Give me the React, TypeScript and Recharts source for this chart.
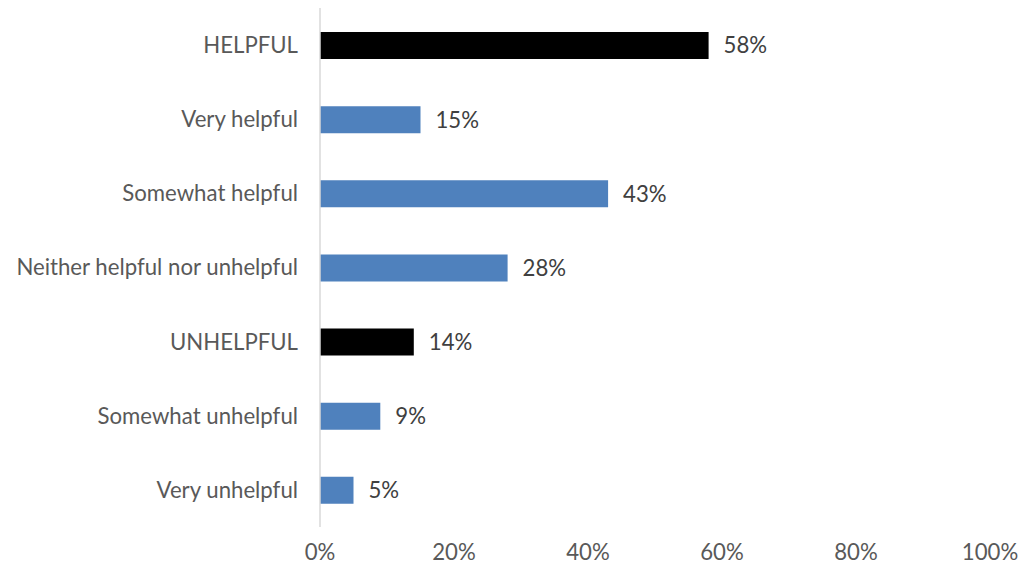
import { BarChart, Bar, XAxis, YAxis, Cell, LabelList } from 'recharts';

const categories = [
  'HELPFUL',
  'Very helpful',
  'Somewhat helpful',
  'Neither helpful nor unhelpful',
  'UNHELPFUL',
  'Somewhat unhelpful',
  'Very unhelpful',
];
const values = [58, 15, 43, 28, 14, 9, 5];
const isSummary = [true, false, false, false, true, false, false];
const xTicks = [0, 20, 40, 60, 80, 100];

const data = categories.map((name, i) => ({ name, value: values[i], summary: isSummary[i] }));

const font = 'Lato, sans-serif';
const fontSize = 22.2;

export default function App() {
  return (
    <div style={{ position: 'fixed', left: 0, top: 0, background: '#fff', fontFamily: font }}>
      <BarChart
        width={1018}
        height={567}
        data={data}
        layout="vertical"
        margin={{ top: 8, right: 28, bottom: 0, left: 0 }}
        barCategoryGap={0}
      >
        <XAxis
          type="number"
          domain={[0, 100]}
          ticks={xTicks}
          tickFormatter={(v: number) => `${v}%`}
          axisLine={false}
          tickLine={false}
          tickSize={0}
          tickMargin={17}
          height={40}
          interval={0}
          tick={{ fill: '#595959', fontSize, fontFamily: font }}
        />
        <YAxis
          type="category"
          dataKey="name"
          width={320}
          axisLine={{ stroke: '#d9d9d9', strokeWidth: 1.5 }}
          tickLine={false}
          tickSize={0}
          tickMargin={22}
          interval={0}
          tick={{ fill: '#595959', fontSize, fontFamily: font }}
        />
        <Bar dataKey="value" barSize={27} isAnimationActive={false}>
          {data.map((d, i) => (
            <Cell key={`cell-${i}`} fill={d.summary ? '#000000' : '#4f81bd'} />
          ))}
          <LabelList
            dataKey="value"
            position="right"
            offset={15}
            formatter={(v: number) => `${v}%`}
            style={{ fill: '#404040', fontSize, fontFamily: font }}
          />
        </Bar>
      </BarChart>
    </div>
  );
}
